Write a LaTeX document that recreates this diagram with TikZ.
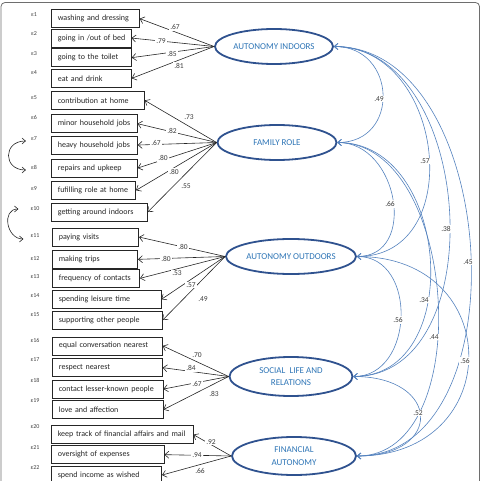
\documentclass[tikz,border=0pt]{standalone}
\usepackage{fontspec}
\setmainfont{Carlito}
\usetikzlibrary{shapes.geometric,arrows.meta}
\definecolor{latline}{RGB}{47,82,143}
\definecolor{lattext}{RGB}{46,117,182}
\definecolor{corrc}{RGB}{84,130,190}
\definecolor{labc}{RGB}{60,60,60}
\definecolor{framec}{RGB}{110,110,110}
\begin{document}
\begin{tikzpicture}[x=1pt,y=-1pt,
  box/.style={draw=black!85, line width=0.7pt, anchor=north west, minimum height=18pt, inner xsep=0pt, inner ysep=0pt, align=left, font=\fontsize{8}{9}\selectfont, text=black!85, execute at begin node={\hspace*{6.5pt}}},
  lat/.style={ellipse, draw=latline, line width=1.8pt, inner sep=0pt, text=lattext, font=\fontsize{9}{12.5}\selectfont, align=center},
  err/.style={font=\fontsize{6}{7}\selectfont, text=black!75, inner sep=1pt},
  lab/.style={font=\fontsize{7.5}{8}\selectfont, text=labc, fill=white, inner sep=1pt},
  load/.style={draw=black!85, line width=0.6pt, -{Straight Barb[length=4pt,width=7pt]}},
  corr/.style={draw=corrc, line width=0.6pt, {Straight Barb[length=3.5pt,width=6pt]}-{Straight Barb[length=3.5pt,width=6pt]}},
  cov/.style={draw=black!85, line width=0.6pt, {Straight Barb[length=3.5pt,width=6pt]}-{Straight Barb[length=3.5pt,width=6pt]}}
]
\useasboundingbox (0,0) rectangle (482,481);
\clip (0,0) rectangle (482,481);
\draw[framec, line width=0.8pt, rounded corners=4pt] (1,2.5) rectangle (479.5,500);

% observed variables
\node[box, text width=88pt]    (b1)  at (51,9.3)   {washing and dressing};
\node[box, text width=79.7pt]  (b2)  at (51,28.7)  {going in /out of bed};
\node[box, text width=80pt]    (b3)  at (51,48.3)  {going to the toilet};
\node[box, text width=80pt]    (b4)  at (51,69)    {eat and drink};
\node[box, text width=93pt]    (b5)  at (51,91)    {contribution at home};
\node[box, text width=85.7pt]  (b6)  at (51,114.3) {minor household jobs};
\node[box, text width=86pt]    (b7)  at (51,135.7) {heavy household jobs};
\node[box, text width=86pt]    (b8)  at (51,158.7) {repairs and upkeep};
\node[box, text width=84.3pt]  (b9)  at (51,181)   {fufilling role at home};
\node[box, text width=96pt]    (b10) at (51,202.7) {getting around indoors};
\node[box, text width=86.3pt]  (b11) at (52,227.7) {paying visits};
\node[box, text width=85.3pt]  (b12) at (52,250)   {making trips};
\node[box, text width=87.3pt]  (b13) at (52,269)   {frequency of contacts};
\node[box, text width=108.7pt] (b14) at (52,290)   {spending leisure time};
\node[box, text width=110pt]   (b15) at (52,310.7) {supporting other people};
\node[box, text width=110pt]   (b16) at (52,336.5) {equal conversation nearest};
\node[box, text width=110pt]   (b17) at (52,358.3) {respect nearest};
\node[box, text width=110.7pt] (b18) at (52,379.7) {contact lesser-known people};
\node[box, text width=110.7pt] (b19) at (52,400.3) {love and affection};
\node[box, text width=141.7pt] (b20) at (51,425.3) {keep track of financial affairs and mail};
\node[box, text width=112.7pt] (b21) at (51,445.3) {oversight of expenses};
\node[box, text width=110.3pt] (b22) at (51,465.7) {spend income as wished};

% error labels
\node[err] (e1)  at (34,15)  {ε1};
\node[err] (e2)  at (34,34)  {ε2};
\node[err] (e3)  at (34,54)  {ε3};
\node[err] (e4)  at (34,73)  {ε4};
\node[err] (e5)  at (34,98)  {ε5};
\node[err] (e6)  at (34,117) {ε6};
\node[err] (e7)  at (34,139) {ε7};
\node[err] (e8)  at (34,167) {ε8};
\node[err] (e9)  at (34,189) {ε9};
\node[err] (e10) at (35,209) {ε10};
\node[err] (e11) at (35,236) {ε11};
\node[err] (e12) at (35,259) {ε12};
\node[err] (e13) at (35,277) {ε13};
\node[err] (e14) at (35,296) {ε14};
\node[err] (e15) at (35,315) {ε15};
\node[err] (e16) at (35,340) {ε16};
\node[err] (e17) at (35,360) {ε17};
\node[err] (e18) at (35,380) {ε18};
\node[err] (e19) at (35,401) {ε19};
\node[err] (e20) at (35,427) {ε20};
\node[err] (e21) at (35,448) {ε21};
\node[err] (e22) at (35,468) {ε22};

\draw[cov] ([xshift=-4pt,yshift=-2pt]e7.west) .. controls +(-23,0) and +(-23,0) .. ([xshift=-4pt,yshift=-3pt]e8.west);
\draw[cov] ([xshift=-11pt]e10.west) .. controls +(-17,0) and +(-17,0) .. ([xshift=-6pt,yshift=-3pt]e11.west);

% latent variables
\node[lat, minimum width=118pt, minimum height=35pt] (ind) at (274,46.5) {AUTONOMY INDOORS};
\node[lat, minimum width=119pt, minimum height=35pt] (fam) at (277,142.5) {FAMILY ROLE};
\node[lat, minimum width=130pt, minimum height=35pt] (out) at (291,256.5) {AUTONOMY OUTDOORS};
\node[lat, minimum width=123pt, minimum height=39pt] (soc) at (291,376.5) {SOCIAL\ \ LIFE AND\\RELATIONS};
\node[lat, minimum width=124pt, minimum height=38pt] (fin) at (294,456) {FINANCIAL\\AUTONOMY};

% loadings
\foreach \b in {b1,b2,b3,b4} \draw[load] (ind.west) -- (\b.east);
\foreach \b in {b5,b6,b7,b8,b9,b10} \draw[load] (fam.west) -- (\b.east);
\foreach \b in {b11,b12,b13,b14,b15} \draw[load] (out.west) -- (\b.east);
\foreach \b in {b16,b17,b18,b19} \draw[load] (soc.west) -- (\b.east);
\foreach \b in {b20,b21,b22} \draw[load] (fin.west) -- (\b.east);

% correlations
\draw[corr] (ind.east) .. controls +(63,0) and +(63,0) .. (fam.east);
\draw[corr] (ind.east) .. controls +(111,0) and +(111,0) .. (out.east);
\draw[corr] (ind.east) .. controls +(141,0) and +(141,0) .. (soc.east);
\draw[corr] (ind.east) .. controls +(167,0) and +(167,0) .. (fin.east);
\draw[corr] (fam.east) .. controls +(61,0) and +(61,0) .. (out.east);
\draw[corr] (fam.east) .. controls +(113,0) and +(113,0) .. (soc.east);
\draw[corr] (fam.east) .. controls +(121,0) and +(121,0) .. (fin.east);
\draw[corr] (out.east) .. controls +(61,0) and +(61,0) .. (soc.east);
\draw[corr] (out.east) .. controls +(149,0) and +(149,0) .. (fin.east);
\draw[corr] (soc.east) .. controls +(87,0) and +(87,0) .. (fin.east);

% loading labels
\node[lab] (l1)  at (175,27)  {.67};
\node[lab] (l2)  at (161,41)  {.79};
\node[lab] (l3)  at (172,54)  {.85};
\node[lab] (l4)  at (179,66)  {.81};
\node[lab] (l5)  at (189,117) {.73};
\node[lab] (l6)  at (172,131) {.82};
\node[lab] (l7)  at (156,143) {.67};
\node[lab] (l8)  at (163,158) {.80};
\node[lab] (l9)  at (174,172) {.80};
\node[lab] (l10) at (186,186) {.55};
\node[lab] (l11) at (183,247) {.80};
\node[lab] (l12) at (166,259) {.80};
\node[lab] (l13) at (177,273) {.53};
\node[lab] (l14) at (191,285) {.57};
\node[lab] (l15) at (203,299) {.49};
\node[lab] (l16) at (197,355) {.70};
\node[lab] (l17) at (191,368) {.84};
\node[lab] (l18) at (197,384) {.67};
\node[lab] (l19) at (214,394) {.83};
\node[lab] (l20) at (211,442) {.92};
\node[lab] (l21) at (197,455) {.94};
\node[lab] (l22) at (200,471) {.66};

% correlation labels
\node[lab] (c1)  at (379,99)  {.49};
\node[lab] (c2)  at (425,161) {.57};
\node[lab] (c3)  at (446,229) {.38};
\node[lab] (c4)  at (468,262) {.45};
\node[lab] (c5)  at (390,204) {.66};
\node[lab] (c6)  at (424,300) {.34};
\node[lab] (c7)  at (434,337) {.44};
\node[lab] (c8)  at (398,320) {.56};
\node[lab] (c9)  at (465,361) {.56};
\node[lab] (c10) at (418,413) {.52};
\end{tikzpicture}
\end{document}
